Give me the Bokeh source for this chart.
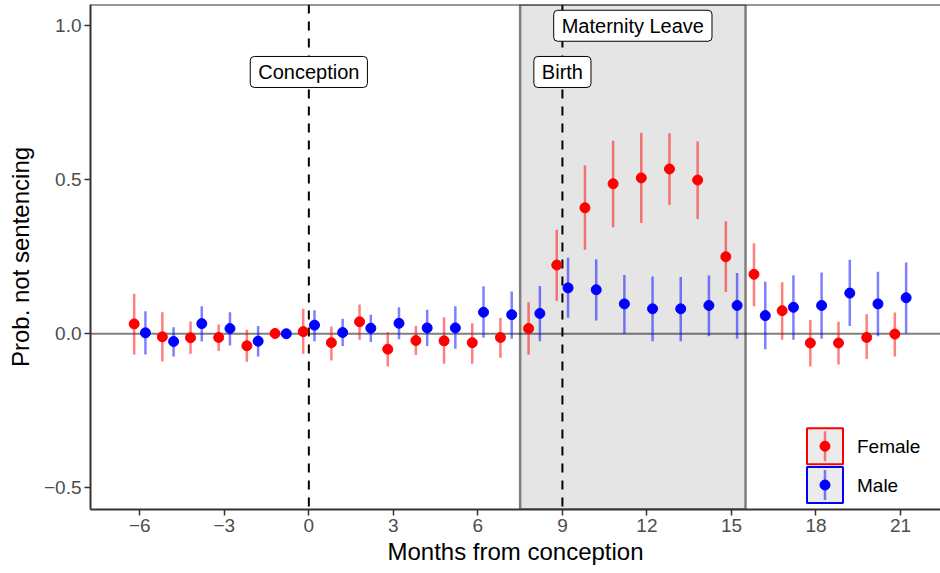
from bokeh.plotting import figure
from bokeh.models import Range1d, FixedTicker, Span, BoxAnnotation, Label, ColumnDataSource
from bokeh.transform import dodge
from bokeh.core.properties import value
from bokeh.embed import file_html
from bokeh.resources import INLINE

# ---- data ----
months = list(range(-6, 22))

female_est = [0.032, -0.010, -0.013, -0.012, -0.039, 0.001,
              0.007, -0.029, 0.039, -0.050, -0.022, -0.023, -0.029, -0.012,
              0.017, 0.223, 0.409, 0.487, 0.506, 0.535, 0.499, 0.250, 0.193,
              0.075, -0.030, -0.030, -0.012, -0.001]
female_lo = [-0.067, -0.090, -0.065, -0.056, -0.091, 0.001,
             -0.065, -0.087, -0.019, -0.106, -0.069, -0.097, -0.097, -0.078,
             -0.068, 0.107, 0.273, 0.346, 0.360, 0.418, 0.373, 0.136, 0.089,
             -0.019, -0.106, -0.100, -0.082, -0.074]
female_hi = [0.130, 0.070, 0.040, 0.030, 0.013, 0.001,
             0.081, 0.024, 0.095, 0.005, 0.025, 0.054, 0.034, 0.051,
             0.102, 0.338, 0.546, 0.627, 0.653, 0.651, 0.624, 0.365, 0.294,
             0.167, 0.045, 0.039, 0.063, 0.069]

male_est = [0.003, -0.025, 0.033, 0.017, -0.024, 0.000,
            0.028, 0.004, 0.018, 0.034, 0.019, 0.019, 0.070, 0.062,
            0.066, 0.149, 0.143, 0.097, 0.081, 0.081, 0.092, 0.092, 0.059,
            0.086, 0.092, 0.132, 0.097, 0.117]
male_lo = [-0.067, -0.074, -0.025, -0.038, -0.074, 0.000,
           -0.024, -0.040, -0.027, -0.018, -0.040, -0.049, -0.013, -0.016,
           -0.024, 0.052, 0.043, 0.000, -0.024, -0.024, -0.008, -0.016, -0.050,
           -0.019, -0.016, 0.025, -0.008, 0.002]
male_hi = [0.073, 0.021, 0.089, 0.070, 0.025, 0.000,
           0.076, 0.049, 0.062, 0.086, 0.078, 0.089, 0.154, 0.137,
           0.155, 0.247, 0.242, 0.191, 0.186, 0.184, 0.189, 0.197, 0.169,
           0.190, 0.199, 0.240, 0.201, 0.231]

x_ticks = [-6, -3, 0, 3, 6, 9, 12, 15, 18, 21]
y_ticks = [-0.5, 0.0, 0.5, 1.0]
y_tick_labels = ["\u22120.5", "0.0", "0.5", "1.0"]

conception_month = 0
birth_month = 9
leave_start, leave_end = 7.5, 15.5
series_names = ["Female", "Male"]
series_colors = ["#ff0000", "#0000ff"]

FONT = "Liberation Sans"

p = figure(width=940, height=573,
           x_range=Range1d(-7.75, 22.42), y_range=Range1d(-0.5705, 1.069),
           output_backend="svg", toolbar_location=None,
           min_border_left=90, min_border_right=0, min_border_top=4, min_border_bottom=64)
p.outline_line_color = None
p.xgrid.visible = False
p.ygrid.visible = False
p.background_fill_color = "white"
p.border_fill_color = "white"

# shaded maternity leave window
p.add_layout(BoxAnnotation(left=leave_start, right=leave_end, fill_color="#e5e5e5", fill_alpha=1.0,
                           line_color="#7f7f7f", line_alpha=1.0, line_width=2.5, level="underlay"))
# zero line
p.add_layout(Span(location=0, dimension="width", line_color="black", line_alpha=0.5,
                  line_width=2, level="underlay"))
# event lines
for m in (conception_month, birth_month):
    p.add_layout(Span(location=m, dimension="height", line_color="black", line_width=2,
                      line_dash="9 8", level="underlay"))
# top border
p.add_layout(Span(location=p.y_range.end, dimension="width", line_color="#333333", line_width=2))

src_f = ColumnDataSource(dict(month=months, est=female_est, lo=female_lo, hi=female_hi))
src_m = ColumnDataSource(dict(month=months, est=male_est, lo=male_lo, hi=male_hi))

for src, off, col in ((src_f, -0.2, series_colors[0]), (src_m, 0.2, series_colors[1])):
    xd = dodge("month", off)
    p.segment(x0=xd, y0="lo", x1=xd, y1="hi", source=src, line_color=col,
              line_alpha=0.5, line_width=2.5)
    p.scatter(x=xd, y="est", source=src, size=10, fill_color=col, line_color=col)

# event labels
for txt, x, y in (("Conception", conception_month, 0.85),
                  ("Birth", birth_month, 0.85),
                  ("Maternity Leave", (leave_start + leave_end) / 2, 1.0)):
    p.add_layout(Label(x=x, y=y, text=txt, text_align="center", text_baseline="middle",
                       text_font=FONT, text_font_size="20px", text_color="black",
                       background_fill_color="white", border_line_color="black",
                       border_line_width=1, border_radius=4,
                       padding=dict(left=8, right=8, top=5, bottom=4)))

# manual legend (ggplot-style keys)
leg_x = 18.32
leg_y = [-0.365, -0.491]
for yy, name, col in zip(leg_y, series_names, series_colors):
    p.rect(x=[leg_x], y=[yy], width=36, height=36, width_units="screen", height_units="screen",
           fill_color="#ebebeb", line_color=col, line_width=2)
    p.rect(x=[leg_x], y=[yy], width=2.5, height=30, width_units="screen", height_units="screen",
           fill_color=col, fill_alpha=0.5, line_color=None)
    p.scatter(x=[leg_x], y=[yy], size=10, fill_color=col, line_color=col)
    p.text(x=[leg_x], y=[yy], text=[name], x_offset=32, text_baseline="middle",
           text_font=value(FONT), text_font_size="19px", text_color="black")

# axes
for ax in (p.xaxis[0], p.yaxis[0]):
    ax.axis_line_color = "#333333"
    ax.axis_line_width = 2
    ax.major_tick_line_color = "#333333"
    ax.major_tick_line_width = 1.5
    ax.major_tick_out = 6
    ax.major_tick_in = 0
    ax.minor_tick_line_color = None
    ax.major_label_text_font = FONT
    ax.major_label_text_font_size = "19px"
    ax.major_label_text_color = "#4d4d4d"
    ax.axis_label_text_font = FONT
    ax.axis_label_text_font_size = "24px"
    ax.axis_label_text_font_style = "normal"
    ax.axis_label_text_color = "black"

p.xaxis.ticker = FixedTicker(ticks=x_ticks)
p.xaxis.major_label_overrides = {t: (str(t).replace("-", "\u2212")) for t in x_ticks}
p.xaxis.major_label_standoff = 3
p.xaxis.axis_label_standoff = 3
p.xaxis.axis_label = "Months from conception"

p.yaxis.ticker = FixedTicker(ticks=y_ticks)
p.yaxis.major_label_overrides = dict(zip(y_ticks, y_tick_labels))
p.yaxis.major_label_standoff = 3
p.yaxis.axis_label_standoff = 7
p.yaxis.axis_label = "Prob. not sentencing"

open("out.html", "w").write(file_html(p, INLINE))
